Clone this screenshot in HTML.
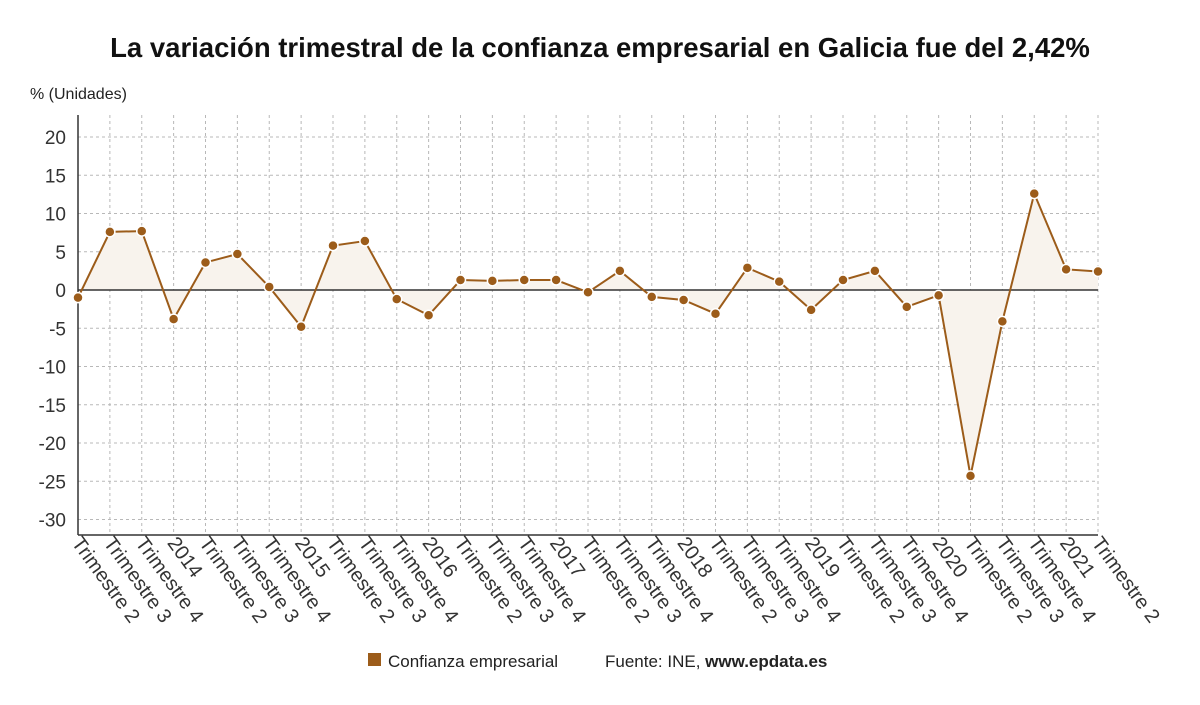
<!DOCTYPE html>
<html><head><meta charset="utf-8"><style>
body{margin:0;background:#fff;font-family:"Liberation Sans",sans-serif;}
svg{display:block}
</style></head><body>
<svg id="chart" width="1200" height="705">
<text x="600" y="57" text-anchor="middle" font-size="27.5" font-weight="bold" fill="#111">La variación trimestral de la confianza empresarial en Galicia fue del 2,42%</text>
<text x="30" y="99" font-size="16" fill="#222">% (Unidades)</text>
<g id="grid"></g><g id="area"></g><g id="axes"></g><g id="series"></g><g id="xlabels"></g>
<rect x="368" y="653" width="13" height="13" fill="#9c5c1a"/>
<text x="388" y="667" font-size="17" fill="#222">Confianza empresarial</text>
<text x="605" y="667" font-size="17" fill="#222">Fuente: INE, <tspan font-weight="bold">www.epdata.es</tspan></text>
</svg>
<script>
const categories=["Trimestre 2","Trimestre 3","Trimestre 4","2014","Trimestre 2","Trimestre 3","Trimestre 4","2015","Trimestre 2","Trimestre 3","Trimestre 4","2016","Trimestre 2","Trimestre 3","Trimestre 4","2017","Trimestre 2","Trimestre 3","Trimestre 4","2018","Trimestre 2","Trimestre 3","Trimestre 4","2019","Trimestre 2","Trimestre 3","Trimestre 4","2020","Trimestre 2","Trimestre 3","Trimestre 4","2021","Trimestre 2"];
const values=[-1.0,7.6,7.7,-3.8,3.6,4.7,0.4,-4.8,5.8,6.4,-1.2,-3.3,1.3,1.2,1.3,1.3,-0.3,2.5,-0.9,-1.3,-3.1,2.9,1.1,-2.6,1.3,2.5,-2.2,-0.7,-24.3,-4.1,12.6,2.7,2.42];
const yTicks=[20,15,10,5,0,-5,-10,-15,-20,-25,-30];
const NS="http://www.w3.org/2000/svg";
const L=78,R=1098,T=115,B=535;
const x=i=>L+(R-L)*i/(categories.length-1);
const y=v=>290-(v*153/20);
function mk(t,a,p){const e=document.createElementNS(NS,t);for(const k in a)e.setAttribute(k,a[k]);document.getElementById(p).appendChild(e);return e;}
yTicks.forEach(t=>{
 const g=mk("line",{x1:L,x2:R,y1:y(t),y2:y(t),stroke:"#b8b8b8","stroke-dasharray":"3,3"},"grid");
 
 
 const tx=mk("text",{x:L-12,y:y(t)+7,"text-anchor":"end","font-size":19,fill:"#333"},"axes");
 tx.textContent=t;
 
 
});
categories.forEach((c,i)=>{
 const g=mk("line",{x1:x(i),x2:x(i),y1:T,y2:B,stroke:"#b8b8b8","stroke-dasharray":"3,3"},"grid");
 
 
 const tx=mk("text",{x:0,y:0,"font-size":20,fill:"#333",transform:`translate(${x(i)-7},${B+8}) rotate(54)`},"xlabels");
 tx.textContent=c;
 
 
});
let d=`M${x(0)},${y(0)} `+values.map((v,i)=>`L${x(i)},${y(v)}`).join(" ")+` L${x(values.length-1)},${y(0)} Z`;
const ar=mk("path",{d:d,fill:"#f8f3ed"},"area");


const ax=mk("line",{x1:L,x2:L,y1:T,y2:B,stroke:"#333","stroke-width":1.5},"axes");


const bx=mk("line",{x1:L,x2:R,y1:B,y2:B,stroke:"#333","stroke-width":1.5},"axes");


const zl=mk("line",{x1:L,x2:R,y1:y(0),y2:y(0),stroke:"#333","stroke-width":1.5},"axes");


const ln=mk("polyline",{points:values.map((v,i)=>`${x(i)},${y(v)}`).join(" "),fill:"none",stroke:"#9c5c1a","stroke-width":2},"series");


values.forEach((v,i)=>{
 const c=mk("circle",{cx:x(i),cy:y(v),r:5,fill:"#9c5c1a",stroke:"#fff","stroke-width":1.5},"series");
 
 
});
</script>
</body></html>
